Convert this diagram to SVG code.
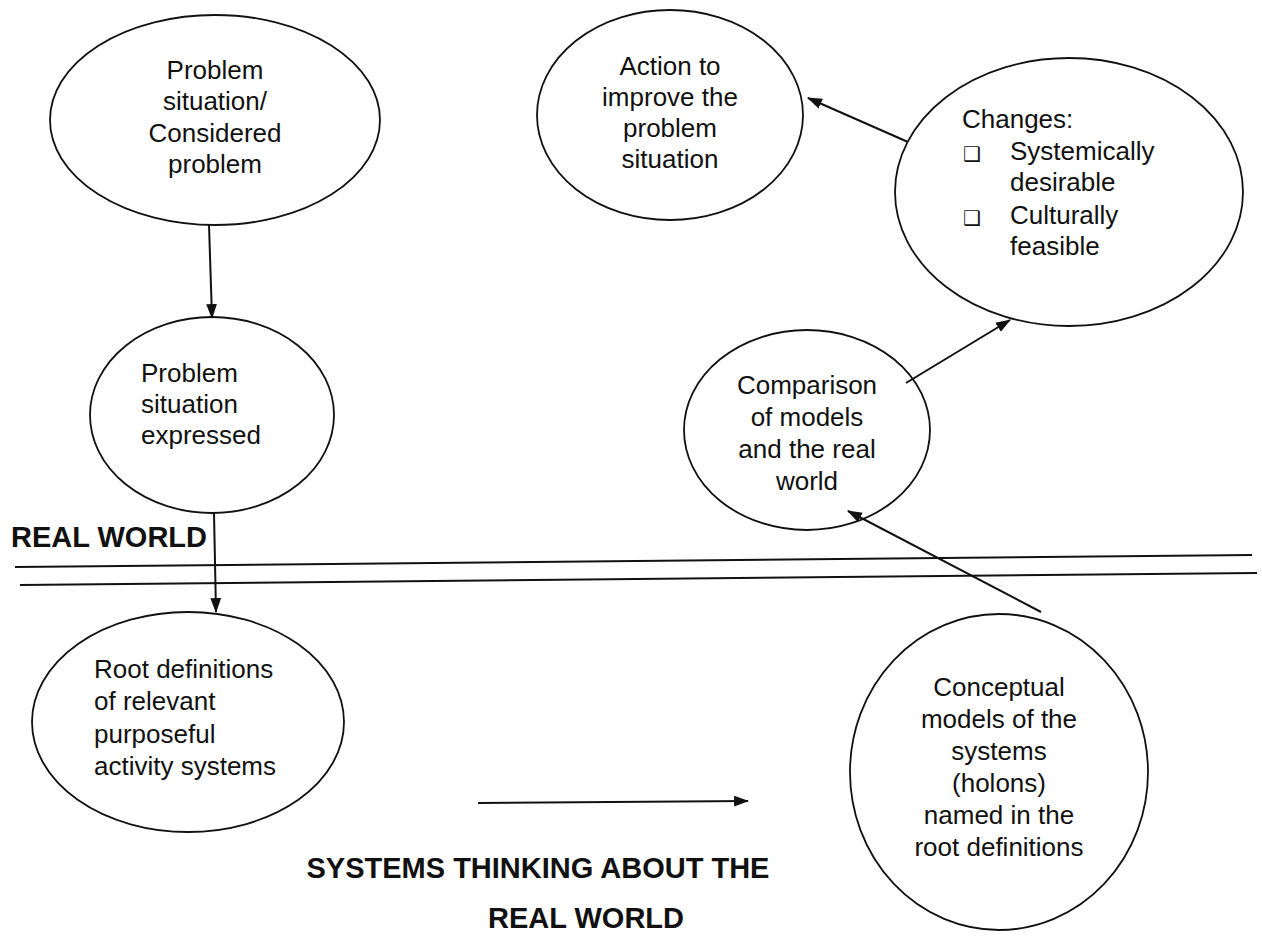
<svg xmlns="http://www.w3.org/2000/svg" width="1262" height="936" viewBox="0 0 1262 936">
<style>
.n{fill:#fff;stroke:#111;stroke-width:1.8}
.t{font-family:"Liberation Sans",Arial,sans-serif;font-size:26px;fill:#111}
.c{text-anchor:middle}
.b{font-family:"Liberation Sans",Arial,sans-serif;font-size:29px;font-weight:bold;fill:#111}
.e{stroke:#111;stroke-width:2;fill:none}
.bx{font-family:"DejaVu Sans",sans-serif;font-size:20px;fill:#111}
</style>
<defs>
<marker id="ah" viewBox="0 0 14 10" refX="13" refY="5" markerWidth="15" markerHeight="11" markerUnits="userSpaceOnUse" orient="auto">
<path d="M0,0 L14,5 L0,10 Z" fill="#111"/>
</marker>
</defs>
<rect width="1262" height="936" fill="#fff"/>
<g id="n1">
<ellipse class="n" cx="215" cy="120" rx="165" ry="105"/>
<text class="t c" x="215" y="79">Problem</text>
<text class="t c" x="215" y="110">situation/</text>
<text class="t c" x="215" y="142">Considered</text>
<text class="t c" x="215" y="173">problem</text>
</g>
<g id="n2">
<ellipse class="n" cx="212" cy="415" rx="122" ry="98"/>
<text class="t" x="141" y="382">Problem</text>
<text class="t" x="141" y="413">situation</text>
<text class="t" x="141" y="444">expressed</text>
</g>
<g id="n3">
<ellipse class="n" cx="188" cy="722" rx="156" ry="110"/>
<text class="t" x="94" y="678">Root definitions</text>
<text class="t" x="94" y="710">of relevant</text>
<text class="t" x="94" y="743">purposeful</text>
<text class="t" x="94" y="775">activity systems</text>
</g>
<g id="n4">
<ellipse class="n" cx="999" cy="772" rx="149" ry="158"/>
<text class="t c" x="999" y="696">Conceptual</text>
<text class="t c" x="999" y="728">models of the</text>
<text class="t c" x="999" y="760">systems</text>
<text class="t c" x="999" y="792">(holons)</text>
<text class="t c" x="999" y="824">named in the</text>
<text class="t c" x="999" y="856">root definitions</text>
</g>
<g id="n5">
<ellipse class="n" cx="807" cy="430" rx="123" ry="100"/>
<text class="t c" x="807" y="394">Comparison</text>
<text class="t c" x="807" y="426">of models</text>
<text class="t c" x="807" y="458">and the real</text>
<text class="t c" x="807" y="490">world</text>
</g>
<g id="n6">
<ellipse class="n" cx="1069" cy="192" rx="174" ry="134"/>
<text class="t" x="962" y="128">Changes:</text>
<text class="bx" x="963" y="161">❑</text>
<text class="t" x="1010" y="160">Systemically</text>
<text class="t" x="1010" y="191">desirable</text>
<text class="bx" x="963" y="225">❑</text>
<text class="t" x="1010" y="224">Culturally</text>
<text class="t" x="1010" y="255">feasible</text>
</g>
<g id="n7">
<ellipse class="n" cx="670" cy="115" rx="133" ry="105"/>
<text class="t c" x="670" y="75">Action to</text>
<text class="t c" x="670" y="106">improve the</text>
<text class="t c" x="670" y="137">problem</text>
<text class="t c" x="670" y="168">situation</text>
</g>
<g id="labels">
<text class="b" x="11" y="547">REAL WORLD</text>
<text class="b c" x="538" y="878">SYSTEMS THINKING ABOUT THE</text>
<text class="b c" x="586" y="928">REAL WORLD</text>
</g>
<g id="connectors">
<line class="e" x1="15" y1="567" x2="1252" y2="555"/>
<line class="e" x1="20" y1="585" x2="1257" y2="573"/>
<line class="e" x1="209" y1="225" x2="212" y2="318" marker-end="url(#ah)"/>
<line class="e" x1="214" y1="513" x2="216" y2="612" marker-end="url(#ah)"/>
<line class="e" x1="478" y1="803" x2="748" y2="801" marker-end="url(#ah)"/>
<line class="e" x1="1041" y1="612" x2="848" y2="511" marker-end="url(#ah)"/>
<line class="e" x1="906" y1="383" x2="1010" y2="320" marker-end="url(#ah)"/>
<line class="e" x1="908" y1="142" x2="808" y2="98" marker-end="url(#ah)"/>
</g>
</svg>
